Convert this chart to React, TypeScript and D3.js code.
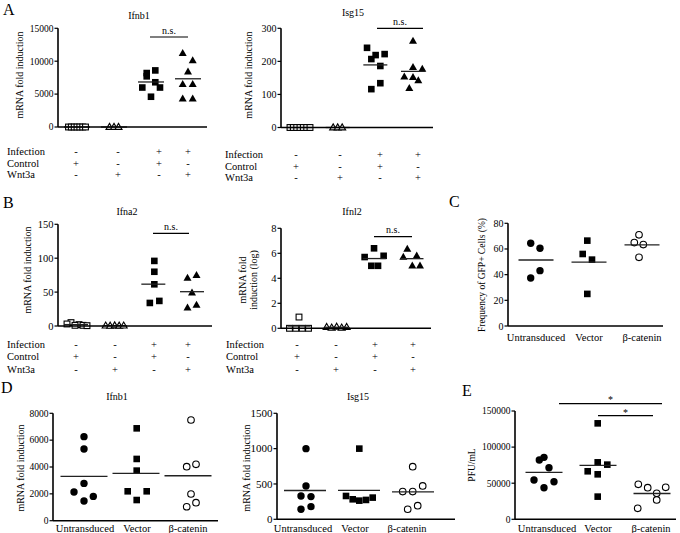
import React from 'react';
import * as d3 from 'd3';

// ---------------- DATA ----------------
// Panel A – Ifnb1
const aIfnb1Ctrl = [0, 0, 0, 0, 0, 0, 0];
const aIfnb1Wnt = [0, 0, 0];
const aIfnb1InfCtrl = [8600, 8200, 7700, 6800, 6000, 6000, 4600];
const aIfnb1InfWnt = [11200, 10100, 8400, 6500, 6500, 4300, 4300];
// Panel A – Isg15
const aIsg15Ctrl = [0, 0, 0, 0, 0, 0, 0];
const aIsg15Wnt = [0, 0, 0];
const aIsg15InfCtrl = [241, 219, 207, 222, 186, 134, 116];
const aIsg15InfWnt = [262, 182, 177, 154, 152, 142, 119];
// Panel B – Ifna2
const bIfna2Ctrl = [5, 3, 2, 1, 1, 0.5];
const bIfna2Wnt = [0.5, 0.3, 0.8, 0.4, 0.6];
const bIfna2InfCtrl = [96, 80, 61.5, 34, 37];
const bIfna2InfWnt = [71, 75, 49, 27, 31];
// Panel B – Ifnl2 (log)
const bIfnl2Ctrl = [0.9, 0, 0, 0, 0];
const bIfnl2Wnt = [0.1, 0.05, 0.12, 0.05, 0.1];
const bIfnl2InfCtrl = [6.4, 5.7, 5.8, 5.0, 5.0];
const bIfnl2InfWnt = [6.35, 5.7, 5.8, 5.0, 5.0];
// Panel C – GFP+ frequency
const cUntrans = [64.5, 60.6, 43.1, 37.4];
const cVector = [66.5, 56.1, 51.7, 25];
const cBcat = [71, 65, 63.4, 53.5];
// Panel D – Ifnb1
const dIfnb1Untrans = [6260, 5340, 2780, 2140, 1810, 1470];
const dIfnb1Vector = [6880, 4600, 3730, 2190, 2190, 1540];
const dIfnb1Bcat = [7500, 4200, 4025, 1990, 1340, 1040];
// Panel D – Isg15
const dIsg15Untrans = [1000, 472, 330, 321, 179, 142];
const dIsg15Vector = [1000, 330, 283, 264, 274, 307];
const dIsg15Bcat = [745, 472, 392, 392, 193, 142];
// Panel E – PFU/mL
const eUntrans = [85800, 82100, 71500, 54500, 52100, 43800];
const eVector = [132900, 78900, 75700, 66500, 62300, 31400];
const eBcat = [48500, 44300, 43800, 36000, 26800, 15200];

// tick labels / categories
const ticksAIfnb1 = [0, 5000, 10000, 15000];
const ticksAIsg15 = [0, 100, 200, 300];
const ticksBIfna2 = [0, 50, 100, 150];
const ticksBIfnl2 = [0, 2, 4, 6, 8];
const ticksC = [0, 20, 40, 60, 80];
const ticksDIfnb1 = [0, 2000, 4000, 6000, 8000];
const ticksDIsg15 = [0, 500, 1000, 1500];
const ticksE = [0, 50000, 100000, 150000];
const categories = ['Untransduced', 'Vector', 'β-catenin'];
const rowNames = ['Infection', 'Control', 'Wnt3a'];
const rowInfection = ['-', '-', '+', '+'];
const rowControl = ['+', '-', '+', '-'];
const rowWnt3a = ['-', '+', '-', '+'];

// ---------------- LAYOUT (jitter, px) ----------------
const J = {
  a1: [[-8.5, -5.7, -2.8, 0, 2.8, 5.7, 8.5], [-4.5, 0, 4.5], [4.3, -4.3, -4.3, 4.3, -8.7, 9, 0], [-5.3, 4.7, 0, -5.3, 4.7, -5.3, 4.7]],
  a2: [[-10, -6.7, -3.3, 0, 3.3, 6.7, 10], [-4.5, 0, 4.5], [-8.3, 0.3, -4, 9.3, 5, 5, -4], [0, 0, 9.3, -8.7, 0, 5.3, -3.7]],
  b1: [[-5, -9, 3, -1, 7, 11], [-9, -4.5, 0, 4.5, 9], [1, 1, 1, -3.5, 6], [-4.5, 4.5, 0, -4.5, 4.5]],
  b2: [[0, -9.5, -3.2, 3.2, 9.5], [-10, -5, 0, 5, 10], [-0.3, -9.7, 9.3, -3, 3.7], [-4.7, -8.7, 4.7, 0.3, 8]],
  c: [[-5.3, 4, 4, -5.3], [-1.7, -6.3, 3, -1.7], [-3, -7.7, 1.3, -3]],
  d1: [[0, 0, 0, -10, 9.3, 0], [0.7, 0.7, 0.7, -8.3, 10.7, 0.7], [3, 8, -1.3, 3, 8, -1.3]],
  d2: [[1, 1, -4, 6, 6, -4], [0.3, -13, -6.3, 0.3, 7, 13.7], [-0.3, 9.7, -10.3, -0.3, 4.7, -5.3]],
  e: [[0, -4.7, 5, -10, 10, 0], [-0.3, -0.3, 9.3, -10.3, -0.3, -0.3], [-13.7, 13.7, -4.3, 4.7, 4.7, -14.3]],
};

const FONT = "'Liberation Serif', 'DejaVu Serif', serif";
type MType = 'square' | 'triangle' | 'circle';
interface Grp { values: number[]; dx: number[]; m: MType; filled: boolean; }

function Mark({ t, filled, x, y }: { t: MType; filled: boolean; x: number; y: number }) {
  const fill = filled ? '#000' : '#fff';
  const sw = filled ? 0 : 1.1;
  if (t === 'square') {
    const s = filled ? 6.6 : 5.8;
    return <rect x={x - s / 2} y={y - s / 2} width={s} height={s} fill={fill} stroke="#000" strokeWidth={sw} />;
  }
  if (t === 'circle') {
    return <circle cx={x} cy={y} r={filled ? 3.7 : 3.3} fill={fill} stroke="#000" strokeWidth={sw} />;
  }
  const w = filled ? 8 : 7, h = filled ? 7 : 6;
  return <path d={`M${x},${y - h * 0.6}L${x + w / 2},${y + h * 0.4}L${x - w / 2},${y + h * 0.4}Z`} fill={fill} stroke="#000" strokeWidth={sw} />;
}

interface Cfg {
  x0: number; x1: number; yTop: number; y0: number; domain: [number, number]; ticks: number[];
  cols: [number, number]; groups: Grp[]; meanW: number; tickFont?: number;
}

function T({ x, y, s, size = 10, anchor = 'middle', rot }: { x: number; y: number; s: string | number; size?: number; anchor?: string; rot?: boolean }) {
  return (
    <text x={x} y={y} textAnchor={anchor as any} fill="#000"
      style={{ fontFamily: FONT, fontSize: `${size}px` }}
      transform={rot ? `rotate(-90,${x},${y})` : undefined}>{s}</text>
  );
}

function Panel({ c }: { c: Cfg }) {
  const y = d3.scaleLinear().domain(c.domain).range([c.y0, c.yTop]);
  const x = d3.scalePoint<number>().domain(d3.range(c.groups.length)).range(c.cols);
  const tf = c.tickFont ?? 9.5;
  return (
    <g>
      {c.groups.map((g, gi) => (
        <g key={gi}>
          {g.values.map((v, i) => (
            <Mark key={i} t={g.m} filled={g.filled} x={(x(gi) as number) + g.dx[i]} y={y(v)} />
          ))}
          <line x1={(x(gi) as number) - c.meanW / 2} x2={(x(gi) as number) + c.meanW / 2}
            y1={y(d3.mean(g.values) as number)} y2={y(d3.mean(g.values) as number)} stroke="#222" strokeWidth={1.3} />
        </g>
      ))}
      <line x1={c.x0} x2={c.x0} y1={c.yTop} y2={c.y0} stroke="#000" strokeWidth={1.6} />
      <line x1={c.x0} x2={c.x1} y1={c.y0} y2={c.y0} stroke="#000" strokeWidth={1.6} />
      {c.ticks.map((t) => (
        <g key={t}>
          <line x1={c.x0 - 3.5} x2={c.x0} y1={y(t)} y2={y(t)} stroke="#000" strokeWidth={1.2} />
          <T x={c.x0 - 4.5} y={y(t) + tf * 0.35} anchor="end" size={tf} s={t} />
        </g>
      ))}
    </g>
  );
}

function Rows({ lx, ys, xs }: { lx: number; ys: number[]; xs: number[] }) {
  const rows = [rowInfection, rowControl, rowWnt3a];
  return (
    <g>
      {rowNames.map((n, ri) => (
        <g key={n}>
          <T x={lx} y={ys[ri]} s={n} size={10.5} anchor="start" />
          {rows[ri].map((s, ci) => <T key={ci} x={xs[ci]} y={ys[ri]} s={s} size={10.5} />)}
        </g>
      ))}
    </g>
  );
}

function NS({ x1, x2, y, label = 'n.s.', ty }: { x1: number; x2: number; y: number; label?: string; ty: number }) {
  return (
    <g>
      <line x1={x1} x2={x2} y1={y} y2={y} stroke="#000" strokeWidth={1.2} />
      <T x={(x1 + x2) / 2} y={ty} s={label} size={10} />
    </g>
  );
}

const mk = (vals: number[][], dx: number[][], ms: MType[], fills: boolean[]): Grp[] =>
  vals.map((v, i) => ({ values: v, dx: dx[i], m: ms[i], filled: fills[i] }));

export default function App() {
  const fourM: MType[] = ['square', 'triangle', 'square', 'triangle'];
  const fourF = [false, false, true, true];
  const threeM: MType[] = ['circle', 'square', 'circle'];
  const threeF = [true, true, false];

  const a1: Cfg = { x0: 58, x1: 207, yTop: 28.3, y0: 127, domain: [0, 15000], ticks: ticksAIfnb1, cols: [77, 188], meanW: 26,
    groups: mk([aIfnb1Ctrl, aIfnb1Wnt, aIfnb1InfCtrl, aIfnb1InfWnt], J.a1, fourM, fourF) };
  const a2: Cfg = { x0: 281, x1: 433, yTop: 28.3, y0: 127.5, domain: [0, 300], ticks: ticksAIsg15, cols: [300, 413], meanW: 24, tickFont: 10,
    groups: mk([aIsg15Ctrl, aIsg15Wnt, aIsg15InfCtrl, aIsg15InfWnt], J.a2, fourM, fourF) };
  const b1: Cfg = { x0: 58, x1: 212, yTop: 224.3, y0: 326, domain: [0, 150], ticks: ticksBIfna2, cols: [76, 192], meanW: 24, tickFont: 10.5,
    groups: mk([bIfna2Ctrl, bIfna2Wnt, bIfna2InfCtrl, bIfna2InfWnt], J.b1, fourM, fourF) };
  const b2: Cfg = { x0: 281, x1: 431, yTop: 228.3, y0: 328.3, domain: [0, 8], ticks: ticksBIfnl2, cols: [299, 412], meanW: 23, tickFont: 10.5,
    groups: mk([bIfnl2Ctrl, bIfnl2Wnt, bIfnl2InfCtrl, bIfnl2InfWnt], J.b2, fourM, fourF) };
  const cc: Cfg = { x0: 508, x1: 663, yTop: 223.3, y0: 326, domain: [0, 80], ticks: ticksC, cols: [536, 642], meanW: 35, tickFont: 10,
    groups: mk([cUntrans, cVector, cBcat], J.c, threeM, threeF) };
  const d1: Cfg = { x0: 53, x1: 218, yTop: 413.3, y0: 520.7, domain: [0, 8000], ticks: ticksDIfnb1, cols: [84, 188], meanW: 47,
    groups: mk([dIfnb1Untrans, dIfnb1Vector, dIfnb1Bcat], J.d1, threeM, threeF) };
  const d2: Cfg = { x0: 277, x1: 455, yTop: 413.3, y0: 519.3, domain: [0, 1500], ticks: ticksDIsg15, cols: [305, 413], meanW: 42, tickFont: 11,
    groups: mk([dIsg15Untrans, dIsg15Vector, dIsg15Bcat], J.d2, threeM, threeF) };
  const ee: Cfg = { x0: 515, x1: 676, yTop: 411, y0: 519.3, domain: [0, 150000], ticks: ticksE, cols: [544, 652], meanW: 37,
    groups: mk([eUntrans, eVector, eBcat], J.e, threeM, threeF) };

  const catX = (c: Cfg) => d3.scalePoint<string>().domain(categories).range(c.cols);

  return (
    <div style={{ position: 'absolute', left: 0, top: 0 }}>
      <svg width={680} height={533} style={{ display: 'block', background: '#fff', fontFamily: FONT, opacity: 0.999 }}>
        {/* Panel letters */}
        <T x={3} y={14.5} s="A" size={16} anchor="start" />
        <T x={3} y={208} s="B" size={16} anchor="start" />
        <T x={449} y={207} s="C" size={16} anchor="start" />
        <T x={1} y={393} s="D" size={16} anchor="start" />
        <T x={462} y={396} s="E" size={16} anchor="start" />

        {/* A – Ifnb1 */}
        <T x={139} y={18.5} s="Ifnb1" />
        <T x={22.5} y={75} s="mRNA fold induction" rot />
        <Panel c={a1} />
        <NS x1={150} x2={188} y={37} ty={34} />
        <Rows lx={7} ys={[154.5, 166.5, 178]} xs={[76, 118, 159, 188]} />

        {/* A – Isg15 */}
        <T x={353} y={15.5} s="Isg15" />
        <T x={251.5} y={75} s="mRNA fold induction" rot />
        <Panel c={a2} />
        <NS x1={377} x2={423} y={28.3} ty={25} />
        <Rows lx={225} ys={[157.5, 169.5, 181]} xs={[296, 340, 380, 418]} />

        {/* B – Ifna2 */}
        <T x={127} y={215} s="Ifna2" />
        <T x={30.5} y={270} s="mRNA fold induction" rot />
        <Panel c={b1} />
        <NS x1={153} x2={189} y={233.3} ty={230.3} />
        <Rows lx={7} ys={[347.5, 360, 372.5]} xs={[76, 115, 154, 188]} />

        {/* B – Ifnl2 */}
        <T x={352} y={215} s="Ifnl2" />
        <T x={245.5} y={280} s="mRNA fold" rot />
        <T x={257} y={280} s="induction (log)" rot />
        <Panel c={b2} />
        <NS x1={374} x2={412} y={236.7} ty={233.3} />
        <Rows lx={226} ys={[347.5, 360, 372.5]} xs={[297, 336, 375, 413]} />

        {/* C */}
        <T x={485} y={275} s="Frequency of GFP+ Cells (%)" size={9.5} rot />
        <Panel c={cc} />
        {categories.map((k) => <T key={k} x={catX(cc)(k) as number} y={340.5} s={k} size={10.5} />)}

        {/* D – Ifnb1 */}
        <T x={117} y={400} s="Ifnb1" />
        <T x={23.5} y={468} s="mRNA fold induction" rot />
        <Panel c={d1} />
        {categories.map((k, i) => <T key={k} x={[85, 137, 188][i]} y={531.5} s={k} size={10.5} />)}

        {/* D – Isg15 */}
        <T x={358} y={400} s="Isg15" />
        <T x={250} y={468} s="mRNA fold induction" rot />
        <Panel c={d2} />
        {categories.map((k, i) => <T key={k} x={[303, 355, 407][i]} y={531.5} s={k} size={10.5} />)}

        {/* E */}
        <T x={475} y={465} s="PFU/mL" size={9.5} rot />
        <Panel c={ee} />
        {categories.map((k, i) => <T key={k} x={[547, 598, 651][i]} y={531.5} s={k} size={10.5} />)}
        <NS x1={559} x2={662} y={403.7} ty={402.6} label="*" />
        <NS x1={598} x2={653} y={415.7} ty={415.6} label="*" />
      </svg>
    </div>
  );
}
